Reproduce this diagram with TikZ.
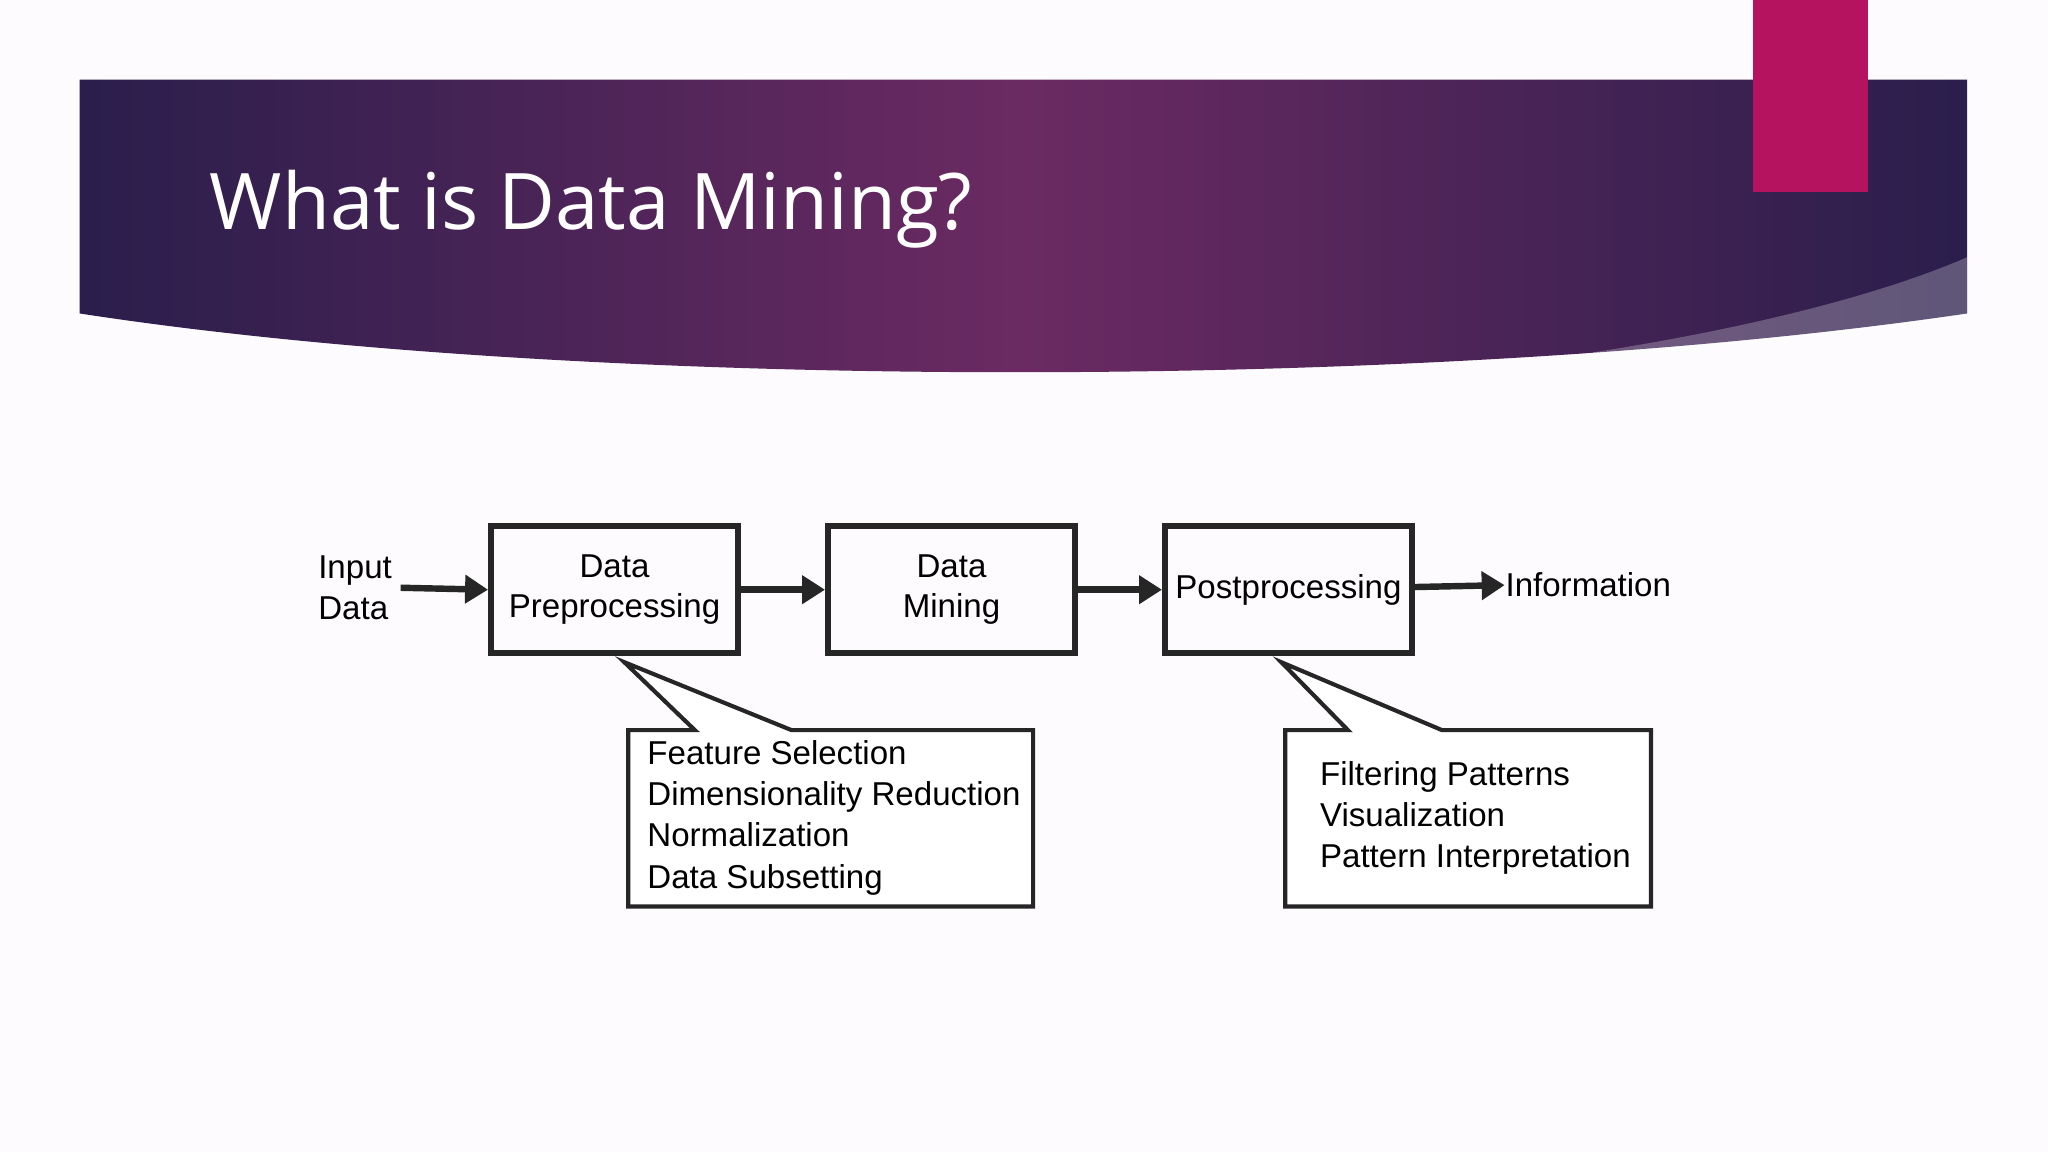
\documentclass[tikz,border=0pt]{standalone}
\usepackage{fontspec}
\setmainfont{Liberation Sans}
\newfontfamily\titlefont{Open Sans}
\usetikzlibrary{arrows.meta}
\definecolor{bgc}{HTML}{FDFBFD}
\definecolor{darkp}{HTML}{2A1E4C}
\definecolor{midp}{HTML}{6B2A62}
\definecolor{mag}{HTML}{B5135F}
\tikzset{
  box/.style={draw=black!85, line width=1.3pt, minimum width=1.89cm, minimum height=0.97cm, align=center, inner sep=0pt, font=\fontsize{7.2}{8.6}\selectfont},
  flow/.style={line width=1.4pt, -{Triangle[length=5pt,width=6pt]}, black!85},
  lab/.style={align=left, font=\fontsize{7.2}{9}\selectfont, inner sep=0pt},
  call/.style={draw=black!85, line width=0.9pt, fill=white}
}
\begin{document}
\begin{tikzpicture}[x=0.01cm,y=-0.01cm]
\useasboundingbox (0,0) rectangle (1568,882);
\fill[bgc] (0,0) rectangle (1568,882);
% banner
\shade[left color=darkp, right color=darkp, middle color=midp]
  (61,61) -- (1506,61) -- (1506,240) .. controls (1100,300) and (450,300) .. (61,240) -- cycle;
\fill[white, opacity=0.25] (1130,282) .. controls (1300,262) and (1430,230) .. (1506,197) -- (1506,240) .. controls (1380,262) and (1250,276) .. (1130,282) -- cycle;
\fill[mag] (1342,0) rectangle (1430,147);
\node[anchor=base west, text=white, inner sep=0pt, font=\titlefont\fontsize{17}{20}\selectfont] (title) at (160,176) {What is Data Mining?};
% boxes
\node[box] (dp) at (470.5,451.5) {Data\\Preprocessing};
\node[box] (dm) at (728.5,451.5) {Data\\Mining};
\node[box] (pp) at (986.5,451.5) {Postprocessing};
\node[lab, anchor=west] (in) at (243,450) {Input\\Data};
\node[lab, anchor=west] (info) at (1152,448) {Information};
\draw[flow] (in.east) ++(6,0) coordinate (ie) -- (dp.west);
\draw[flow] (dp) -- (dm);
\draw[flow] (dm) -- (pp);
\draw[flow] (pp) -- (info.west);
% callouts
\draw[call] (481,559) -- (532,559) -- (478,507) -- (606,559) -- (791,559) -- (791,694) -- (481,694) -- cycle;
\draw[call] (984,559) -- (1032,559) -- (981,507) -- (1104,559) -- (1264,559) -- (1264,694) -- (984,694) -- cycle;
\node[lab, anchor=north west] (c1) at (495,566) {Feature Selection\\Dimensionality Reduction\\Normalization\\Data Subsetting};
\node[lab, anchor=north west] (c2) at (1010,582) {Filtering Patterns\\Visualization\\Pattern Interpretation};
\end{tikzpicture}
\end{document}
